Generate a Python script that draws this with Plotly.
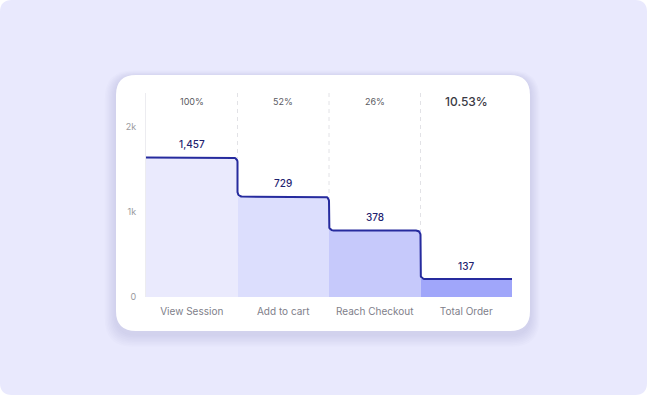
import math
import plotly.graph_objects as go

# ---- data ----
stages = ["View Session", "Add to cart", "Reach Checkout", "Total Order"]
stage_counts = [1457, 729, 378, 137]            # value labels shown above steps
step_heights = [1637, 1179, 781, 211]           # drawn level of each step
conversion_labels = ["100%", "52%", "26%", "10.53%"]
y_tick_values = [0, 1000, 2000]
y_tick_labels = ["0", "1k", "2k"]

band_colors = ["#eaeafd", "#dcdefd", "#c6c9fb", "#a0a6fa"]
line_color = "#262b9e"

W, H = 647, 395
L, R, T, B = 146, 135, 93, 98
PW, PH = W - L - R, H - T - B


def px_to_paper(x, y):
    return (x - L) / PW, (H - B - y) / PH


def rounded_rect(x0, y0, x1, y1, r):
    def p(x, y):
        a, b = px_to_paper(x, y)
        return f"{a:.5f},{b:.5f}"
    return (f"M {p(x0 + r, y0)} L {p(x1 - r, y0)} Q {p(x1, y0)} {p(x1, y0 + r)} "
            f"L {p(x1, y1 - r)} Q {p(x1, y1)} {p(x1 - r, y1)} "
            f"L {p(x0 + r, y1)} Q {p(x0, y1)} {p(x0, y1 - r)} "
            f"L {p(x0, y0 + r)} Q {p(x0, y0)} {p(x0 + r, y0)} Z")


shapes = []
# page background
shapes.append(dict(type="path", xref="paper", yref="paper", layer="below",
                   path=rounded_rect(0, 0, W, H, 12), fillcolor="#e9e9fd", line_width=0))
# card shadow
for k in range(8, 0, -1):
    shapes.append(dict(type="path", xref="paper", yref="paper", layer="below",
                       path=rounded_rect(116 - k * 1.4, 77 - k * 0.8, 530 + k * 1.2, 334 + k * 1.6, 20 + k),
                       fillcolor="rgba(110,110,190,0.022)", line_width=0))
# card
shapes.append(dict(type="path", xref="paper", yref="paper", layer="below",
                   path=rounded_rect(116, 75, 530, 331, 20), fillcolor="#ffffff", line_width=0))
# dashed separators
for i in range(len(stages) - 1):
    shapes.append(dict(type="line", xref="x", yref="paper", layer="below",
                       x0=i + 0.5, x1=i + 0.5, y0=0, y1=1,
                       line=dict(color="#e2e2e6", width=1, dash="4px,4px")))

# ---- step line with rounded corners, computed from step heights ----
dx = 4.5 / (PW / len(stages))
ry = 4.5 / (PH / 2395)
lx, ly = [-0.5], [step_heights[0]]
n_arc = 8
for i in range(len(stages) - 1):
    b = i + 0.5
    v0, v1 = step_heights[i], step_heights[i + 1]
    cx, cy = b - dx, v0 - ry
    for j in range(n_arc + 1):
        th = math.pi / 2 - (math.pi / 2) * j / n_arc
        lx.append(cx + dx * math.cos(th)); ly.append(cy + ry * math.sin(th))
    cx, cy = b + dx, v1 + ry
    for j in range(n_arc + 1):
        th = math.pi + (math.pi / 2) * j / n_arc
        lx.append(cx + dx * math.cos(th)); ly.append(cy + ry * math.sin(th))
lx.append(len(stages) - 0.5); ly.append(step_heights[-1])

fig = go.Figure()
fig.add_trace(go.Bar(x=list(range(len(stages))), y=step_heights, width=1,
                     marker=dict(color=band_colors, line_width=0),
                     hoverinfo="skip", showlegend=False))
fig.add_trace(go.Scatter(x=lx, y=ly, mode="lines", line=dict(color=line_color, width=2),
                         hoverinfo="skip", showlegend=False))

annotations = []
for i, (c, h) in enumerate(zip(stage_counts, step_heights)):
    annotations.append(dict(x=i, y=h, xref="x", yref="y", text=f"{c:,}", showarrow=False,
                            yanchor="middle", yshift=13.5,
                            font=dict(family="Inter", size=10, color="#1f2370", weight=500)))
for i, t in enumerate(conversion_labels):
    last = i == len(conversion_labels) - 1
    annotations.append(dict(x=i, y=px_to_paper(0, 101.5)[1], xref="x", yref="paper", text=t,
                            showarrow=False, yanchor="middle",
                            font=dict(family="Inter", size=12 if last else 9,
                                      weight=500 if last else 400,
                                      color="#3a3a44" if last else "#5a5a62")))

fig.update_layout(
    width=W, height=H,
    margin=dict(l=L, r=R, t=T, b=B),
    paper_bgcolor="#ffffff",
    plot_bgcolor="rgba(0,0,0,0)",
    bargap=0,
    shapes=shapes,
    annotations=annotations,
    font=dict(family="Inter"),
    xaxis=dict(range=[-0.5, len(stages) - 0.5], tickvals=list(range(len(stages))), ticktext=stages,
               showgrid=False, zeroline=False, showline=False, ticks="",
               tickfont=dict(family="Inter", size=10, color="#80808a"), ticklabelstandoff=7,
               fixedrange=True),
    yaxis=dict(range=[0, 2395], tickvals=y_tick_values, ticktext=y_tick_labels,
               showgrid=False, zeroline=False, showline=True, linecolor="#ececf0", linewidth=1,
               layer="below traces", ticks="",
               tickfont=dict(family="Inter", size=9, color="#9a9a9e"), ticklabelstandoff=7,
               fixedrange=True),
)

fig.write_html("out.html", config={"displayModeBar": False},
               post_script="document.body.style.margin='0';document.body.style.overflow='hidden';")
